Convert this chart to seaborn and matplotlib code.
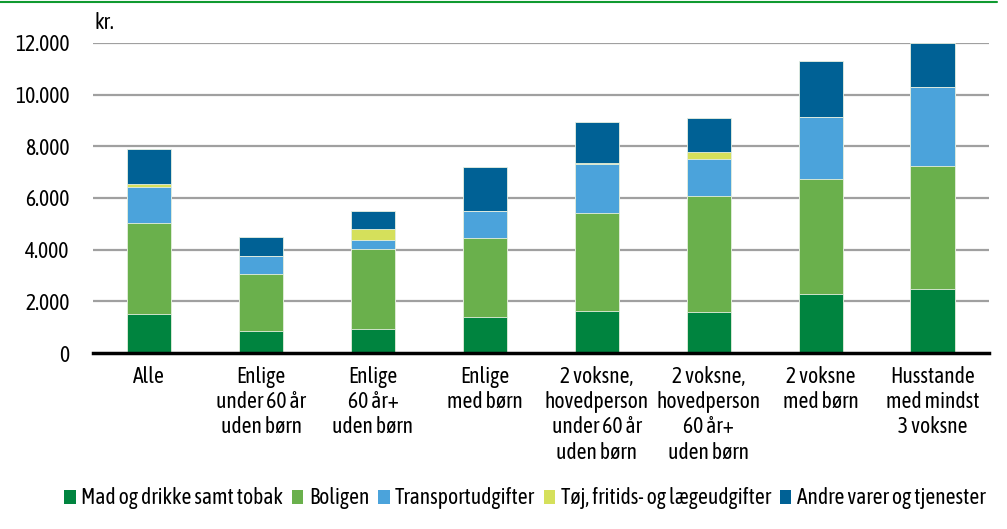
import matplotlib
matplotlib.use("Agg")
import matplotlib.pyplot as plt
import seaborn as sns
import pandas as pd
import numpy as np
from matplotlib.patches import Patch
from matplotlib.lines import Line2D

categories = [
    "Alle",
    "Enlige\nunder 60 år\nuden børn",
    "Enlige\n60 år+\nuden børn",
    "Enlige\nmed børn",
    "2 voksne,\nhovedperson\nunder 60 år\nuden børn",
    "2 voksne,\nhovedperson\n60 år+\nuden børn",
    "2 voksne\nmed børn",
    "Husstande\nmed mindst\n3 voksne",
]
series_names = [
    "Mad og drikke samt tobak",
    "Boligen",
    "Transportudgifter",
    "Tøj, fritids- og lægeudgifter",
    "Andre varer og tjenester",
]
mad = [1500, 860, 920, 1380, 1610, 1600, 2290, 2470]
bolig = [3530, 2180, 3100, 3060, 3820, 4460, 4440, 4750]
transport = [1400, 710, 360, 1060, 1890, 1430, 2410, 3060]
toej = [100, 0, 420, 0, 30, 290, 0, 0]
andre = [1360, 750, 700, 1710, 1600, 1320, 2160, 1720]
yticks = [0, 2000, 4000, 6000, 8000, 10000, 12000]
ytick_labels = ["0", "2.000", "4.000", "6.000", "8.000", "10.000", "12.000"]

colors = ["#00843f", "#6ab04c", "#4ba3db", "#d5e05b", "#006195"]

sns.set_theme(style="white")
plt.rcParams["font.family"] = ["Asap Condensed", "Barlow Semi Condensed", "DejaVu Sans"]
plt.rcParams["font.weight"] = "normal"
plt.rcParams["text.color"] = "black"
plt.rcParams["xtick.color"] = "black"
plt.rcParams["ytick.color"] = "black"
fs = 15.5

fig = plt.figure(figsize=(10.07, 5.29), dpi=100)
ax = fig.add_axes([0.0924, 0.3327, 0.8896, 0.5863])

values = np.array([mad, bolig, transport, toej, andre], dtype=float)
cum = np.cumsum(values, axis=0)

for grid_y in yticks[1:]:
    ax.axhline(grid_y, color="#a0a0a0", lw=1.6, zorder=0)

for i in range(len(series_names) - 1, -1, -1):
    df = pd.DataFrame({"cat": categories, "val": cum[i]})
    sns.barplot(data=df, x="cat", y="val", color=colors[i], width=0.4,
                saturation=1, ax=ax, zorder=2, edgecolor="#e8f0e0", linewidth=0.6)

ax.set_xlim(-0.5, 7.5)
ax.set_ylim(0, 12000)
ax.set_yticks(yticks)
ax.set_yticklabels(ytick_labels, fontsize=fs)
ax.set_xticks(range(len(categories)))
ax.set_xticklabels(categories, fontsize=fs, linespacing=1.2, va="top")
ax.tick_params(axis="x", length=0, pad=9)
ax.tick_params(axis="y", length=0, pad=17)
ax.set_xlabel("")
ax.set_ylabel("")
for s in ["top", "right", "left"]:
    ax.spines[s].set_visible(False)
ax.spines["bottom"].set_color("black")
ax.spines["bottom"].set_linewidth(2.5)
ax.spines["bottom"].set_zorder(5)

fig.text(0.094, 0.957, "kr.", fontsize=fs, ha="left", va="center")

fig.add_artist(Line2D([0, 0.99], [0.997, 0.997], color="#109a30", lw=1.5,
                      transform=fig.transFigure))

handles = [Patch(facecolor=c, edgecolor="none") for c in colors]
fig.legend(handles, series_names, loc="center", bbox_to_anchor=(0.521, 0.058),
           ncol=5, frameon=False, fontsize=fs, handlelength=0.55,
           handleheight=0.65, handletextpad=0.25, columnspacing=0.4)

fig.savefig("out.png", dpi=100)
